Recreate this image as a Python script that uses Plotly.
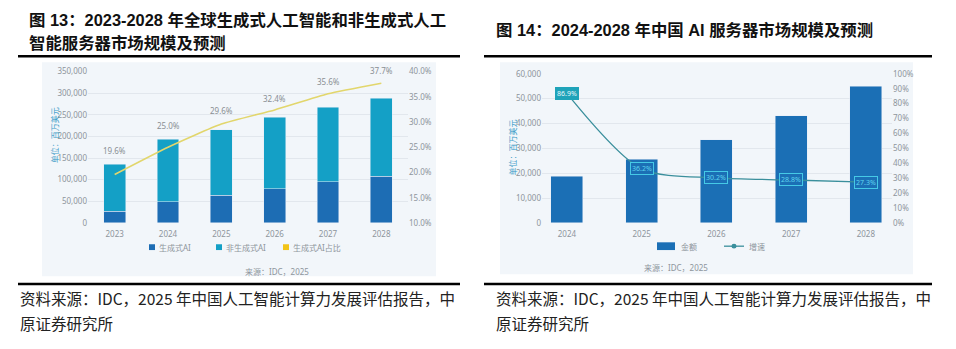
import plotly.graph_objects as go

W, H = 956, 349

# Global generative / non-generative AI server market (USD million)
years_global = ["2023", "2024", "2025", "2026", "2027", "2028"]
gen_ai = [26500, 48500, 64000, 79000, 95000, 108500]
non_gen_ai = [109000, 145000, 152000, 165500, 173000, 179500]
gen_share = [19.6, 25.0, 29.6, 32.4, 35.6, 37.7]

# China AI server market (USD million) and growth rate (%)
years_cn = ["2024", "2025", "2026", "2027", "2028"]
cn_amount = [18800, 25600, 33400, 43100, 55000]
cn_growth = [86.9, 36.2, 30.2, 28.8, 27.3]

C_GEN = "#1d6db4"
C_NONGEN = "#14a0c6"
C_SHARE = "#e2d66c"
C_CN = "#1b6fb5"
C_GROWTH = "#3a8f9c"
C_TICK = "#8e959c"
C_GRID = "#e2e7ed"
C_PANEL = "#f2f6fa"
TITLE_FONT = "Liberation Sans, Noto Sans CJK SC"
AX_FONT = "Noto Sans, Noto Sans CJK SC"


def px(x):
    return x / W


def py(y):
    return 1 - y / H


fig = go.Figure()

fig.add_trace(go.Bar(x=years_global, y=gen_ai, name="生成式AI", marker_color=C_GEN,
                     width=0.41, xaxis="x", yaxis="y"))
fig.add_trace(go.Bar(x=years_global, y=non_gen_ai, name="非生成式AI", marker_color=C_NONGEN,
                     width=0.41, xaxis="x", yaxis="y"))
fig.add_trace(go.Scatter(x=years_global, y=gen_share, name="生成式AI占比", mode="lines",
                         line=dict(color=C_SHARE, width=1.6, shape="spline", smoothing=0.5),
                         xaxis="x", yaxis="y2"))

fig.add_trace(go.Bar(x=years_cn, y=cn_amount, name="金额", marker_color=C_CN,
                     width=0.43, xaxis="x2", yaxis="y3"))
fig.add_trace(go.Scatter(x=years_cn, y=cn_growth, name="增速", mode="lines",
                         line=dict(color=C_GROWTH, width=1.3, shape="spline", smoothing=0.8),
                         xaxis="x2", yaxis="y4"))

annotations = []

# share labels above the line (x given as category index)
share_offsets = [16, 14, 6, 4, 5, 5]
for i, (v, off) in enumerate(zip(gen_share, share_offsets)):
    annotations.append(dict(x=i, y=v, xref="x", yref="y2", text=f"{v:.1f}%",
                            showarrow=False, yshift=off, yanchor="bottom",
                            font=dict(size=8, color="#8a8f94", family=AX_FONT)))

# growth labels boxed on the line points
for i, v in enumerate(cn_growth):
    first = i == 0
    annotations.append(dict(x=i, y=v, xref="x2", yref="y4", text=f"{v:.1f}%",
                            showarrow=False, yanchor="middle",
                            bgcolor="#1fa3b9" if first else C_CN,
                            bordercolor="#1fa3b9" if first else "#45c9e6",
                            borderwidth=1, borderpad=1,
                            font=dict(size=7, color="#e6f7fb" if first else "#5fd4ef",
                                      family=AX_FONT)))

# titles
annotations += [
    dict(x=px(27), y=py(14), xref="paper", yref="paper", xanchor="left", yanchor="middle",
         text="<b>图 13：2023-2028 年全球生成式人工智能和非生成式人工</b>", showarrow=False,
         font=dict(size=16.4, color="#111", family=TITLE_FONT)),
    dict(x=px(27), y=py(38), xref="paper", yref="paper", xanchor="left", yanchor="middle",
         text="<b>智能服务器市场规模及预测</b>", showarrow=False,
         font=dict(size=16.4, color="#111", family=TITLE_FONT)),
    dict(x=px(494), y=py(25), xref="paper", yref="paper", xanchor="left", yanchor="middle",
         text="<b>图 14：2024-2028 年中国 AI 服务器市场规模及预测</b>", showarrow=False,
         font=dict(size=16.4, color="#111", family=TITLE_FONT)),
]

# footnotes
for x0 in (18, 494):
    annotations.append(dict(x=px(x0), y=py(301), xref="paper", yref="paper", xanchor="left",
                            yanchor="middle", showarrow=False,
                            text="资料来源：IDC，2025 年中国人工智能计算力发展评估报告，中",
                            font=dict(size=15.5, color="#222", family="Noto Sans CJK SC")))
    annotations.append(dict(x=px(x0), y=py(327), xref="paper", yref="paper", xanchor="left",
                            yanchor="middle", showarrow=False, text="原证券研究所",
                            font=dict(size=15.5, color="#222", family="Noto Sans CJK SC")))

# in-panel source lines
annotations.append(dict(x=px(243), y=py(274), xref="paper", yref="paper", showarrow=False,
                        yanchor="middle", text="来源：IDC，2025",
                        font=dict(size=8, color=C_TICK, family=AX_FONT)))
annotations.append(dict(x=px(710), y=py(270), xref="paper", yref="paper", showarrow=False,
                        yanchor="middle", text="来源：IDC，2025",
                        font=dict(size=8, color=C_TICK, family=AX_FONT)))

# unit titles
for xx, yy in ((47, 134), (512, 146)):
    annotations.append(dict(x=px(xx), y=py(yy), xref="paper", yref="paper", showarrow=False,
                            textangle=-90, text="单位：百万美元",
                            font=dict(size=8, color="#3d9cc8", family=AX_FONT)))

shapes = [
    # panels
    dict(type="rect", xref="paper", yref="paper", x0=px(42), x1=px(436), y0=py(279), y1=py(58),
         fillcolor=C_PANEL, line_width=0, layer="below"),
    dict(type="rect", xref="paper", yref="paper", x0=px(500), x1=px(913), y0=py(277), y1=py(58),
         fillcolor=C_PANEL, line_width=0, layer="below"),
    # rules
    dict(type="line", xref="paper", yref="paper", x0=px(18), x1=px(460), y0=py(52), y1=py(52),
         line=dict(color="#000", width=2.5)),
    dict(type="line", xref="paper", yref="paper", x0=px(484), x1=px(932), y0=py(52), y1=py(52),
         line=dict(color="#000", width=2.5)),
    dict(type="line", xref="paper", yref="paper", x0=px(18), x1=px(460), y0=py(287), y1=py(287),
         line=dict(color="#000", width=2.5)),
    dict(type="line", xref="paper", yref="paper", x0=px(484), x1=px(932), y0=py(287), y1=py(287),
         line=dict(color="#000", width=2.5)),
]

# left legend
legend_left = [(149, C_GEN, "生成式AI"), (216, C_NONGEN, "非生成式AI"), (283, "#f2c418", "生成式AI占比")]
for x0, col, label in legend_left:
    shapes.append(dict(type="rect", xref="paper", yref="paper", x0=px(x0), x1=px(x0 + 6),
                       y0=py(252), y1=py(246), fillcolor=col, line_width=0))
    annotations.append(dict(x=px(x0 + 8), y=py(249), xref="paper", yref="paper", xanchor="left",
                            yanchor="middle", showarrow=False, text=label,
                            font=dict(size=8, color=C_TICK, family=AX_FONT)))

# right legend
shapes.append(dict(type="rect", xref="paper", yref="paper", x0=px(657), x1=px(675),
                   y0=py(252), y1=py(244), fillcolor=C_CN, line_width=0))
annotations.append(dict(x=px(679), y=py(248), xref="paper", yref="paper", xanchor="left",
                        yanchor="middle", showarrow=False, text="金额",
                        font=dict(size=8, color=C_TICK, family=AX_FONT)))
shapes.append(dict(type="line", xref="paper", yref="paper", x0=px(724), x1=px(744),
                   y0=py(248), y1=py(248), line=dict(color=C_GROWTH, width=1.3)))
shapes.append(dict(type="circle", xref="paper", yref="paper", x0=px(731.5), x1=px(736.5),
                   y0=py(250.5), y1=py(245.5), fillcolor=C_GROWTH, line_width=0))
annotations.append(dict(x=px(747), y=py(248), xref="paper", yref="paper", xanchor="left",
                        yanchor="middle", showarrow=False, text="增速",
                        font=dict(size=8, color=C_TICK, family=AX_FONT)))

tickfont = dict(size=8, color=C_TICK, family=AX_FONT)

fig.update_layout(
    width=W, height=H,
    margin=dict(l=0, r=0, t=0, b=0),
    paper_bgcolor="white",
    plot_bgcolor="rgba(0,0,0,0)",
    barmode="stack",
    showlegend=False,
    xaxis=dict(domain=[px(88), px(408)], anchor="y", type="category", range=[-0.5, 5.5],
               showgrid=False, zeroline=False, showline=False, ticks="", tickfont=tickfont,
               ticklabelstandoff=5),
    yaxis=dict(domain=[py(224), py(67.7)], anchor="x", range=[0, 350000], dtick=50000,
               tickformat=",", gridcolor=C_GRID, gridwidth=1, zeroline=False, showline=False,
               ticks="", tickfont=tickfont),
    yaxis2=dict(overlaying="y", anchor="x", side="right", range=[10, 40], dtick=5,
                tickformat=".1f", ticksuffix="%", showgrid=False, zeroline=False,
                showline=False, ticks="", tickfont=tickfont),
    xaxis2=dict(domain=[px(542), px(892)], anchor="y3", type="category", range=[-0.333, 4.35],
                showgrid=False, zeroline=False, showline=False, ticks="", tickfont=tickfont,
                ticklabelstandoff=5),
    yaxis3=dict(domain=[py(224), py(70)], anchor="x2", range=[0, 60000], dtick=10000,
                tickformat=",", gridcolor=C_GRID, gridwidth=1, zeroline=False, showline=False,
                ticks="", tickfont=tickfont),
    yaxis4=dict(overlaying="y3", anchor="x2", side="right", range=[0, 100], dtick=10,
                ticksuffix="%", showgrid=False, zeroline=False, showline=False, ticks="",
                tickfont=tickfont),
    annotations=annotations,
    shapes=shapes,
)

fig.write_html("out.html")
